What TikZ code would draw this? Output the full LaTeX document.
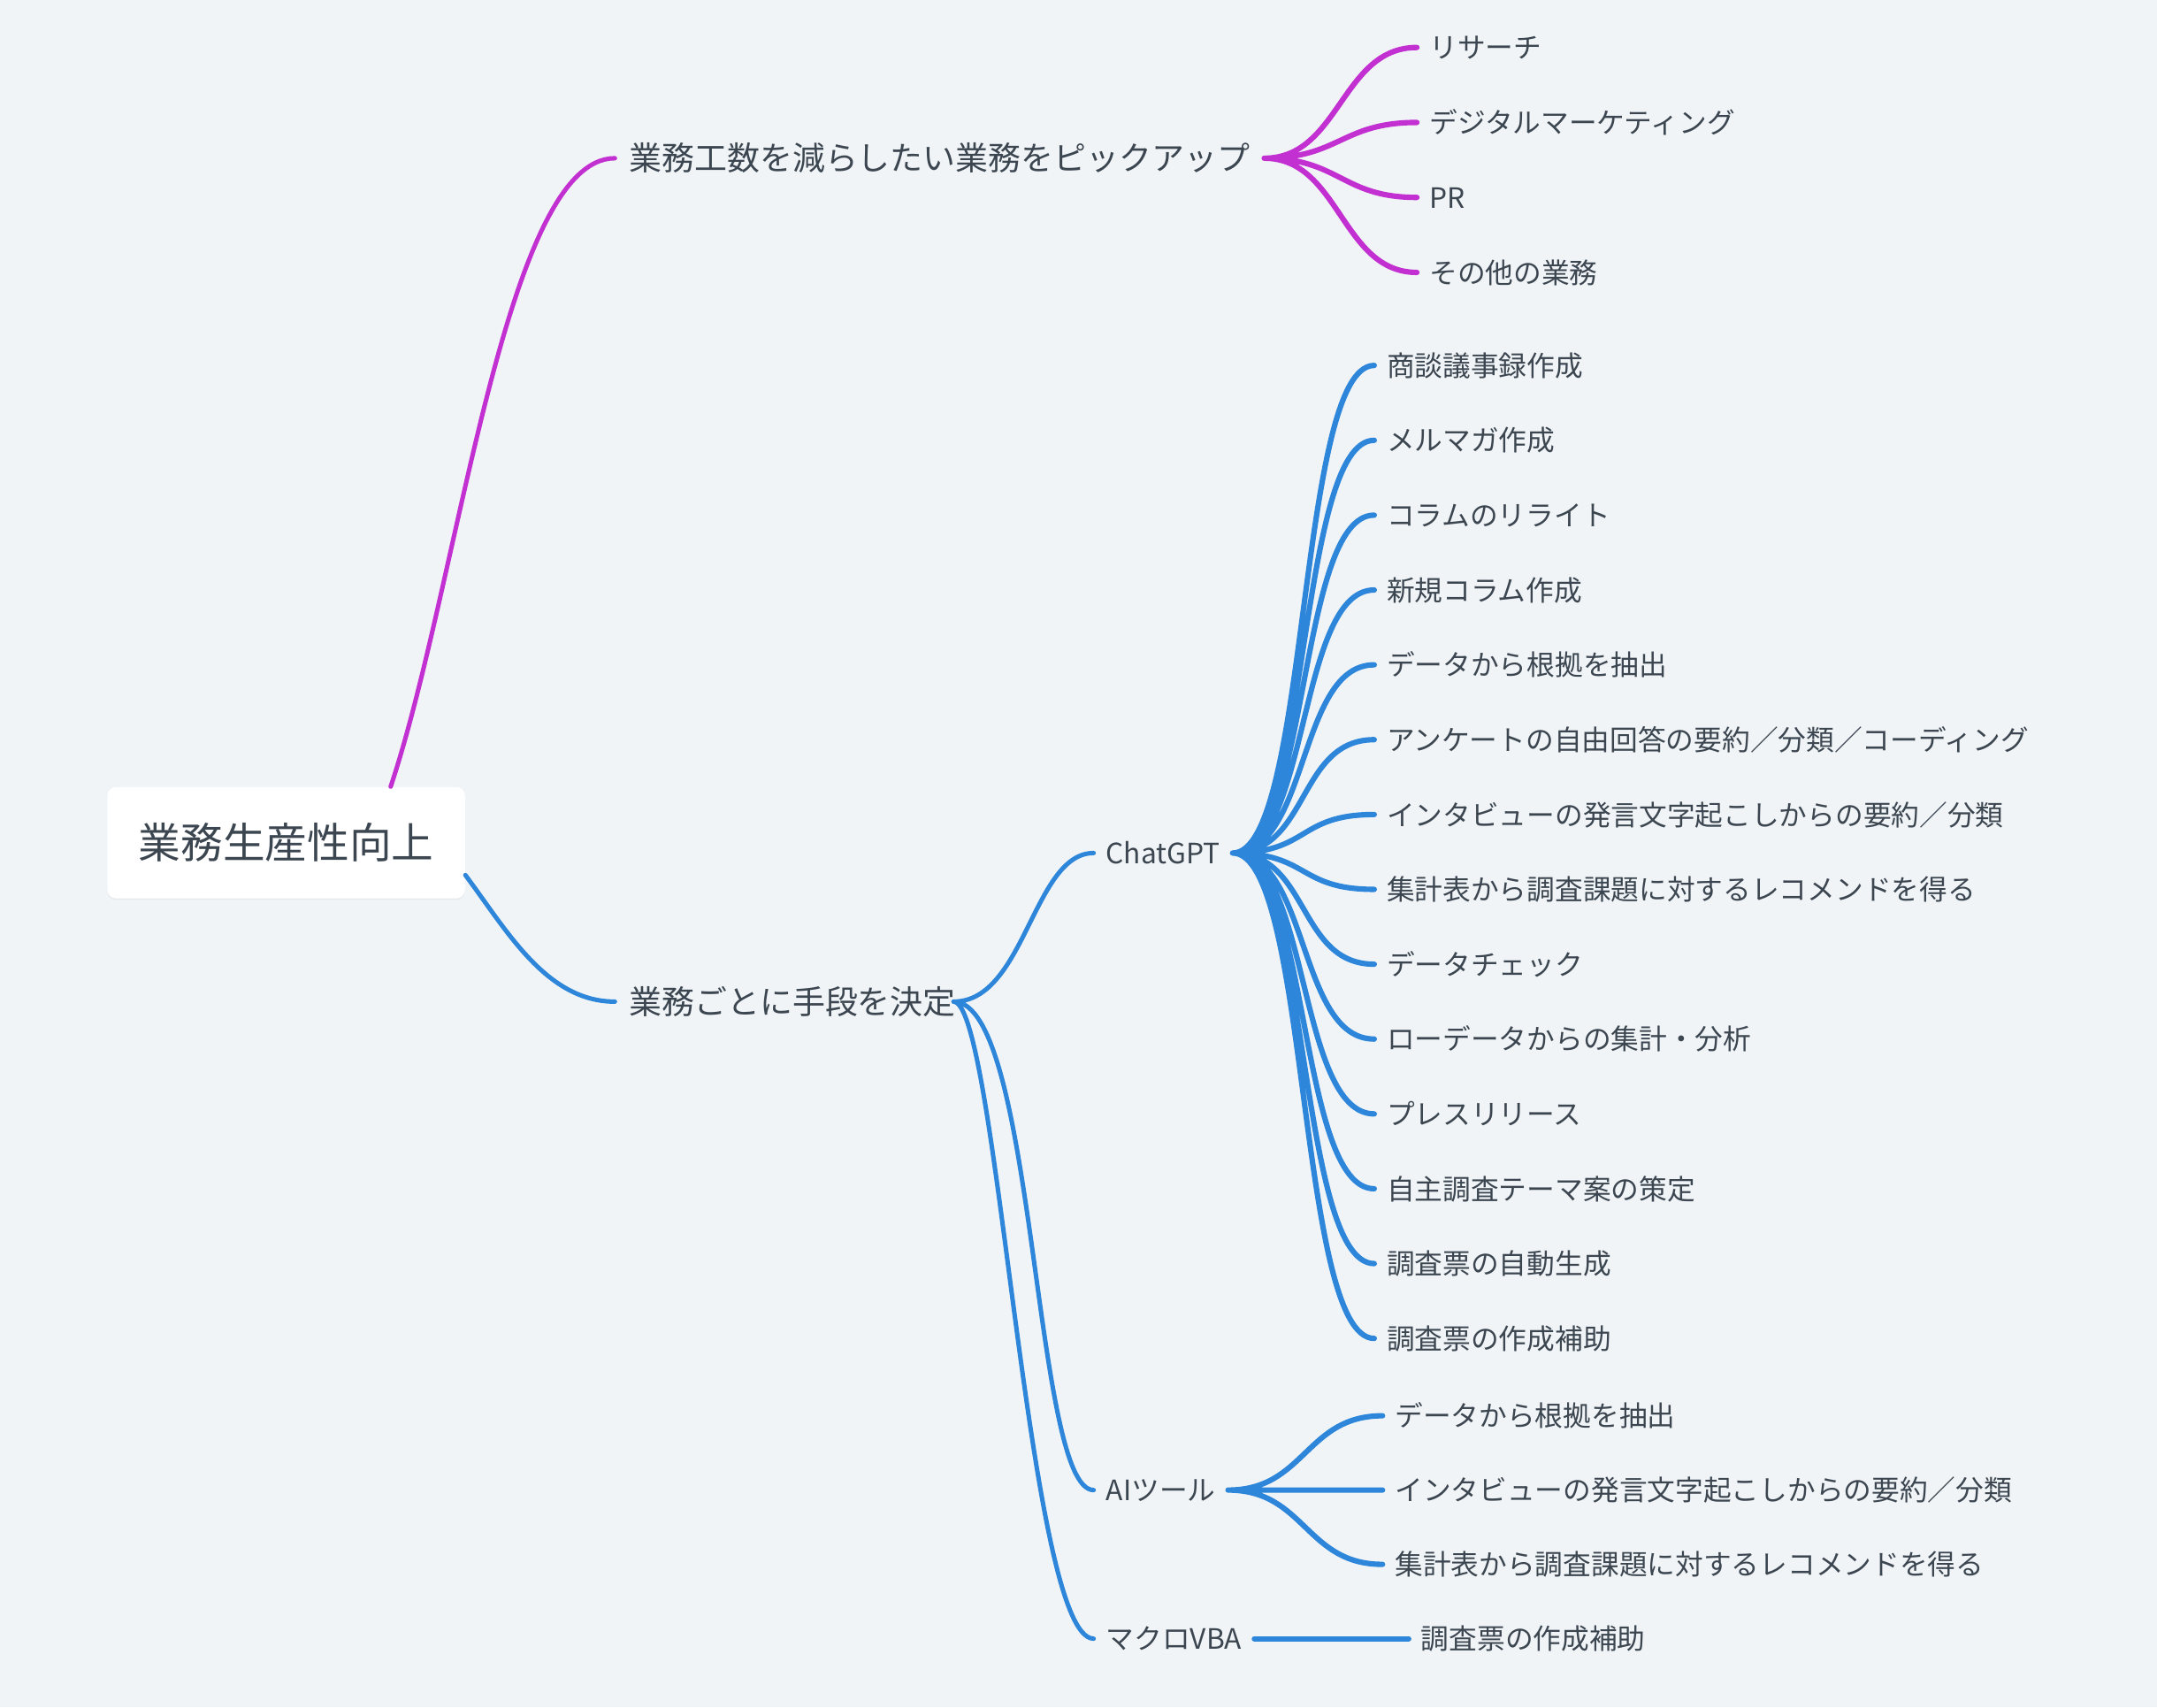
\documentclass[tikz,border=0pt]{standalone}
\usepackage{fontspec}
\setmainfont{Noto Sans CJK JP}
\usetikzlibrary{positioning,shadows}

\definecolor{pagebg}{HTML}{F0F4F7}
\definecolor{magline}{HTML}{C230D2}
\definecolor{blueline}{HTML}{2D86D9}
\definecolor{ink}{HTML}{3C4650}

\tikzset{
	rootbox/.style={fill=white, rounded corners=0.16cm, minimum width=6.5cm, minimum height=2.025cm, inner sep=0pt, text=ink, font=\fontsize{21.8}{26}\selectfont, text height=19.2pt, text depth=2.6pt, drop shadow={shadow xshift=0pt, shadow yshift=-0.8pt, opacity=0.07}},
	topic/.style={inner xsep=0.25cm, inner ysep=0pt, text=ink, font=\fontsize{16.9}{20}\selectfont, text height=14.9pt, text depth=2pt},
	leaf/.style={inner xsep=0.22cm, inner ysep=0pt, text=ink, font=\fontsize{14.5}{17}\selectfont, text height=12.8pt, text depth=1.7pt},
	sway/.style={to path={.. controls +(#1,0) and +(-#1,0) .. (\tikztotarget)}},
	trunk/.style={line width=2.3pt, line cap=round},
	twig/.style={line width=2.8pt, line cap=round},
}

\begin{document}
\begin{tikzpicture}
	\path [use as bounding box, fill=pagebg] (0,0) rectangle (39.2,-31.025);

	\node [rootbox] (root) at (5.2,-15.3125) {業務生産性向上};
	\node [topic, above right = 12.4375cm and 5.975cm of root.center, anchor = west] (pick) {業務工数を減らしたい業務をピックアップ};
	\node [topic, below right = 2.8875cm and 5.975cm of root.center, anchor = west] (decide) {業務ごとに手段を決定};

	\node [leaf, above right = 2.0125cm and 14.575cm of pick.west, anchor = west] (m1) {リサーチ};
	\node [leaf, below = 1.3625cm of m1.west, anchor = west] (m2) {デジタルマーケティング};
	\node [leaf, below = 1.3625cm of m2.west, anchor = west] (m3) {PR};
	\node [leaf, below = 1.3625cm of m3.west, anchor = west] (m4) {その他の業務};

	\node [leaf, above right = 2.7cm and 8.7cm of decide.west, anchor = west] (gpt) {ChatGPT};
	\node [leaf, below right = 8.875cm and 8.7cm of decide.west, anchor = west] (ai) {AIツール};
	\node [leaf, below right = 11.575cm and 8.7cm of decide.west, anchor = west] (vba) {マクロVBA};

	\node [leaf, above right = 8.86cm and 5.1cm of gpt.west, anchor = west] (c1) {商談議事録作成};
	\node [leaf, below = 1.36cm of c1.west, anchor = west] (c2) {メルマガ作成};
	\node [leaf, below = 1.36cm of c2.west, anchor = west] (c3) {コラムのリライト};
	\node [leaf, below = 1.36cm of c3.west, anchor = west] (c4) {新規コラム作成};
	\node [leaf, below = 1.36cm of c4.west, anchor = west] (c5) {データから根拠を抽出};
	\node [leaf, below = 1.36cm of c5.west, anchor = west] (c6) {アンケートの自由回答の要約／分類／コーディング};
	\node [leaf, below = 1.36cm of c6.west, anchor = west] (c7) {インタビューの発言文字起こしからの要約／分類};
	\node [leaf, below = 1.36cm of c7.west, anchor = west] (c8) {集計表から調査課題に対するレコメンドを得る};
	\node [leaf, below = 1.36cm of c8.west, anchor = west] (c9) {データチェック};
	\node [leaf, below = 1.36cm of c9.west, anchor = west] (c10) {ローデータからの集計・分析};
	\node [leaf, below = 1.36cm of c10.west, anchor = west] (c11) {プレスリリース};
	\node [leaf, below = 1.36cm of c11.west, anchor = west] (c12) {自主調査テーマ案の策定};
	\node [leaf, below = 1.36cm of c12.west, anchor = west] (c13) {調査票の自動生成};
	\node [leaf, below = 1.36cm of c13.west, anchor = west] (c14) {調査票の作成補助};

	\node [leaf, above right = 1.35cm and 5.25cm of ai.west, anchor = west] (a1) {データから根拠を抽出};
	\node [leaf, below = 1.35cm of a1.west, anchor = west] (a2) {インタビューの発言文字起こしからの要約／分類};
	\node [leaf, below = 1.35cm of a2.west, anchor = west] (a3) {集計表から調査課題に対するレコメンドを得る};

	\node [leaf, right = 5.725cm of vba.west, anchor = west] (v1) {調査票の作成補助};

	\draw [trunk, magline] ([xshift=1.9cm]root.north) .. controls +(1.25,3.75) and +(-2,0) .. (pick.west);
	\draw [twig, magline, sway=1.375cm]
		(pick.east) to (m1.west)
		(pick.east) to (m2.west)
		(pick.east) to (m3.west)
		(pick.east) to (m4.west);

	\draw [trunk, blueline] ([yshift=-0.5875cm]root.east) .. controls +(0.75,-1) and +(-1.25,0) .. (decide.west);
	\draw [trunk, blueline]
		([xshift=-0.3cm]decide.east) .. controls +(1.3,0) and +(-1.1,0) .. (gpt.west)
		([xshift=-0.3cm]decide.east) .. controls +(1.5,0) and +(-1.1,0) .. (ai.west)
		([xshift=-0.3cm]decide.east) .. controls +(0.8,0) and +(-1.2,0) .. (vba.west);
	\draw [twig, blueline, sway=1.4cm]
		(gpt.east) to (c1.west)
		(gpt.east) to (c2.west)
		(gpt.east) to (c3.west)
		(gpt.east) to (c4.west)
		(gpt.east) to (c5.west)
		(gpt.east) to (c6.west)
		(gpt.east) to (c7.west)
		(gpt.east) to (c8.west)
		(gpt.east) to (c9.west)
		(gpt.east) to (c10.west)
		(gpt.east) to (c11.west)
		(gpt.east) to (c12.west)
		(gpt.east) to (c13.west)
		(gpt.east) to (c14.west)
		(ai.east) to (a1.west)
		(ai.east) to (a2.west)
		(ai.east) to (a3.west);
	\draw [twig, blueline] (vba.east) -- (v1.west);
\end{tikzpicture}
\end{document}
